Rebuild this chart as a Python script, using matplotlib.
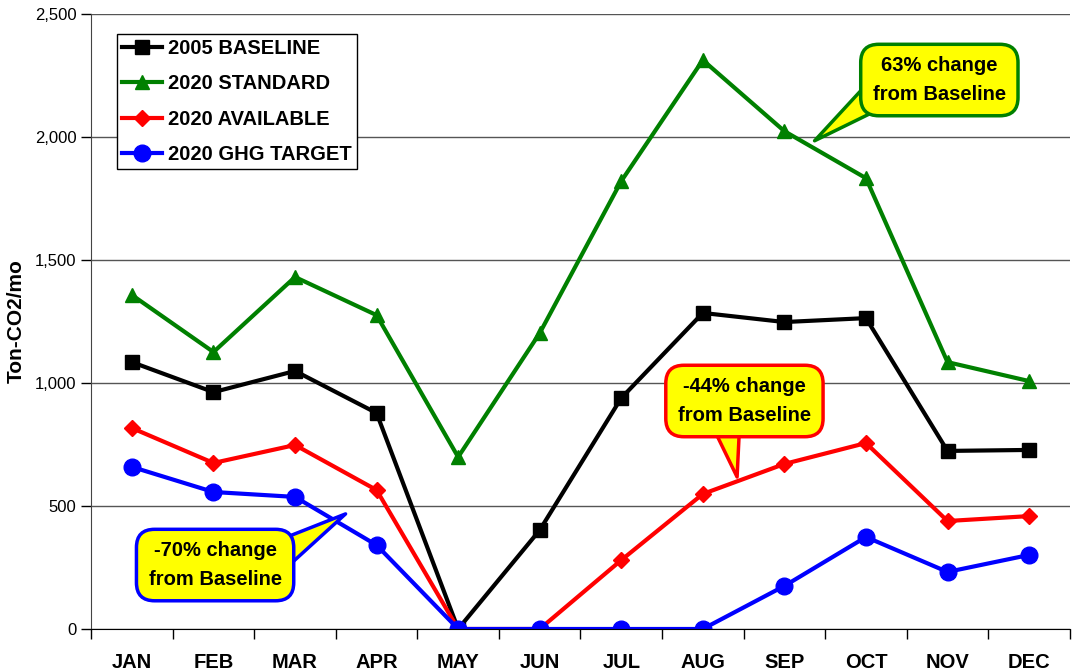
import matplotlib
matplotlib.use('Agg')
import matplotlib.pyplot as plt
import numpy as np

plt.rcParams['font.family'] = ['Liberation Sans', 'DejaVu Sans']

months = ['JAN', 'FEB', 'MAR', 'APR', 'MAY', 'JUN',
          'JUL', 'AUG', 'SEP', 'OCT', 'NOV', 'DEC']
baseline_2005 = [1085, 963, 1049, 878, 0, 402, 939, 1285, 1248, 1264, 724, 728]
standard_2020 = [1358, 1126, 1431, 1276, 699, 1203, 1821, 2313, 2024, 1833, 1085, 1008]
available_2020 = [817, 675, 748, 565, 0, 0, 280, 549, 671, 756, 439, 459]
ghg_target_2020 = [659, 557, 537, 341, 0, 0, 0, 0, 175, 374, 232, 301]

x = np.arange(len(months))

fig = plt.figure(figsize=(10.72, 6.72), dpi=100)
ax = fig.add_axes([0.085, 0.064, 0.913, 0.915])

ax.plot(x, baseline_2005, color='black', lw=3, marker='s', ms=10,
        label='2005 BASELINE')
ax.plot(x, standard_2020, color='#008000', lw=3, marker='^', ms=10,
        label='2020 STANDARD')
ax.plot(x, available_2020, color='red', lw=3, marker='D', ms=8,
        label='2020 AVAILABLE')
ax.plot(x, ghg_target_2020, color='blue', lw=3, marker='o', ms=12,
        label='2020 GHG TARGET')

ax.set_xlim(-0.5, 11.5)
ax.set_ylim(0, 2500)
ax.set_yticks(range(0, 2501, 500))
ax.set_yticklabels([f'{v:,}' for v in range(0, 2501, 500)], fontsize=12)
ax.grid(axis='y', color='#555555', lw=1)
ax.set_axisbelow(True)

# month labels centered, tick marks between categories
ax.set_xticks(x)
ax.set_xticklabels(months, fontsize=14.5, fontweight='bold')
ax.tick_params(axis='x', length=0, pad=17)
ax.set_xticks(np.arange(-0.5, 12, 1), minor=True)
ax.tick_params(axis='x', which='minor', length=7, width=1, direction='out')
ax.tick_params(axis='y', length=7, width=1, direction='out')

for side in ['top', 'right']:
    ax.spines[side].set_visible(False)
ax.spines['left'].set_color('#444444')
ax.spines['bottom'].set_color('black')

ax.set_ylabel('Ton-CO2/mo', fontsize=15, fontweight='bold')
ax.yaxis.set_label_coords(-0.067, 0.5)

leg = ax.legend(loc='upper left', bbox_to_anchor=(0.026, 0.968),
                prop={'size': 14.5, 'weight': 'bold'}, fancybox=False,
                edgecolor='black', framealpha=1, handlelength=2.0,
                borderpad=0.25, labelspacing=0.82, handletextpad=0.3,
                borderaxespad=0)
leg.get_frame().set_linewidth(1)

# callouts: text, colour, pointer tip, box centre, pointer base (bbox fraction)
callouts = [
    ('63% change\nfrom Baseline', '#008000', (8.37, 1985), (9.9, 2232), (0.08, 0.3)),
    ('-44% change\nfrom Baseline', 'red', (7.42, 618), (7.51, 927), (0.35, 0.2)),
    ('-70% change\nfrom Baseline', 'blue', (2.62, 468), (1.02, 260), (0.92, 0.6)),
]
for text, col, tip, box, base in callouts:
    ax.annotate(text, xy=tip, xytext=box, ha='center', va='center',
                fontsize=14.5, fontweight='bold', linespacing=1.62,
                bbox=dict(boxstyle='round,pad=0.6,rounding_size=0.9',
                          fc='yellow', ec=col, lw=2.5),
                arrowprops=dict(arrowstyle='wedge,tail_width=1.6,shrink_factor=0.5',
                                fc='yellow', ec=col, lw=2.5, relpos=base,
                                patchA=None, shrinkA=0, shrinkB=0))

fig.savefig('out.png', dpi=100)
